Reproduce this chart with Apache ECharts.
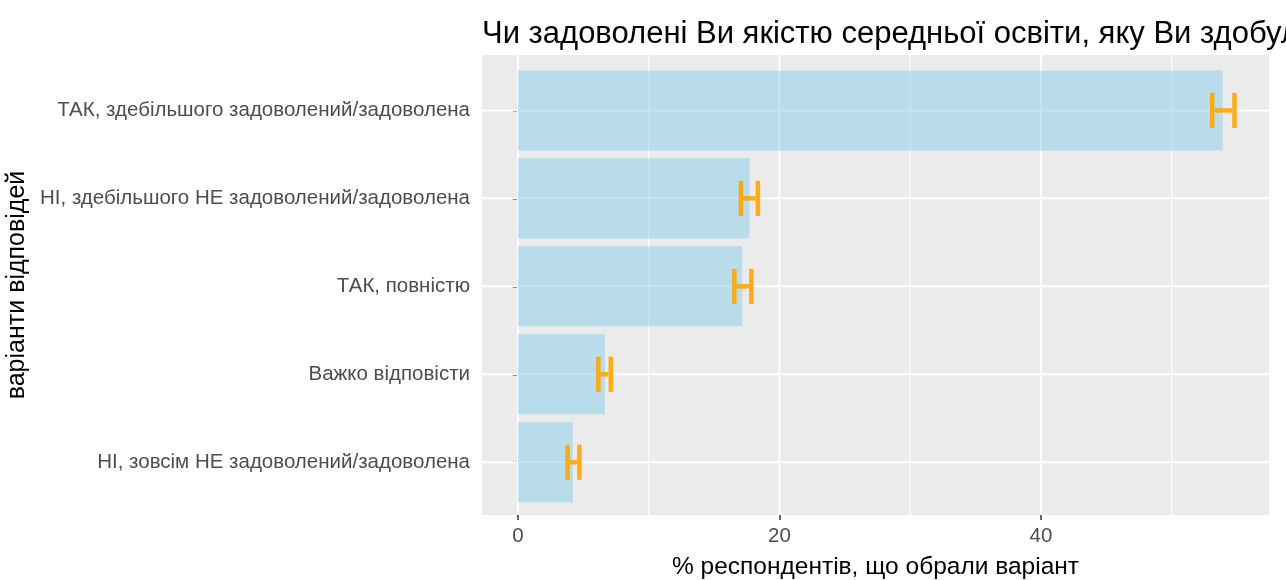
<!DOCTYPE html>
<html><head><meta charset="utf-8">
<script src="https://cdn.jsdelivr.net/npm/echarts@6/dist/echarts.min.js"></script>
<style>html,body{margin:0;padding:0;background:#fff}#c{width:1286px;height:580px}</style>
</head><body><div id="c"></div>
<script>
const categories = [
  'ТАК, здебільшого задоволений/задоволена',
  'НІ, здебільшого НЕ задоволений/задоволена',
  'ТАК, повністю',
  'Важко відповісти',
  'НІ, зовсім НЕ задоволений/задоволена'
];
const values = [53.9, 17.7, 17.15, 6.65, 4.2];
const lower = [53.1, 17.05, 16.55, 6.15, 3.8];
const upper = [54.8, 18.35, 17.85, 7.1, 4.7];
const xTicks = [0, 20, 40];
const xMinor = [10, 30, 50];
const titleText = 'Чи задоволені Ви якістю середньої освіти, яку Ви здобули?';
const xTitle = '% респондентів, що обрали варіант';
const yTitle = 'варіанти відповідей';

const FONT = 'Liberation Sans, Arial, sans-serif';
const rows = categories.map((c, i) => i + 1);

const chart = echarts.init(document.getElementById('c'), null, {renderer: 'canvas'});
chart.setOption({
  animation: false,
  backgroundColor: '#ffffff',
  textStyle: {fontFamily: FONT},
  title: {
    text: titleText, left: 477, top: 14,
    textStyle: {fontSize: 31, fontWeight: 'normal', color: '#000', fontFamily: FONT}
  },
  grid: {
    left: 482, right: 17, top: 55, bottom: 65,
    outerBoundsMode: 'none',
    show: true, backgroundColor: '#EBEBEB', borderWidth: 0, containLabel: false
  },
  xAxis: {
    type: 'value', min: -2.75, max: 57.44,
    axisLine: {show: false},
    axisTick: {show: true, customValues: xTicks, length: 5, lineStyle: {color: '#333', width: 1.5}},
    axisLabel: {customValues: xTicks, fontSize: 20.5, color: '#4D4D4D', margin: 11, fontFamily: FONT},
    splitLine: {show: false},
    name: xTitle, nameLocation: 'middle', nameGap: 40,
    nameTextStyle: {fontSize: 24.5, color: '#000', fontFamily: FONT}
  },
  yAxis: {
    type: 'value', inverse: true, min: 0.37, max: 5.6,
    axisLine: {show: false},
    axisTick: {show: true, customValues: rows, length: 5, lineStyle: {color: '#333', width: 1.5}},
    axisLabel: {customValues: rows, fontSize: 20.5, color: '#4D4D4D', margin: 12, fontFamily: FONT,
      formatter: v => categories[Math.round(v) - 1] || ''},
    splitLine: {show: false},
    name: yTitle, nameLocation: 'middle', nameGap: 448, nameRotate: 90,
    nameTextStyle: {fontSize: 25, color: '#000', fontFamily: FONT}
  },
  series: [
    {
      type: 'custom', z: 1, silent: true,
      data: xMinor.map(v => [v, 1]),
      renderItem: (params, api) => {
        const x = api.coord([api.value(0), 1])[0];
        const cs = params.coordSys;
        return {type: 'line', shape: {x1: x, y1: cs.y, x2: x, y2: cs.y + cs.height},
          style: {stroke: '#fff', lineWidth: 1}};
      }
    },
    {
      type: 'custom', z: 1, silent: true,
      data: xTicks.map(v => [v, 1]),
      renderItem: (params, api) => {
        const x = api.coord([api.value(0), 1])[0];
        const cs = params.coordSys;
        return {type: 'line', shape: {x1: x, y1: cs.y, x2: x, y2: cs.y + cs.height},
          style: {stroke: '#fff', lineWidth: 2}};
      }
    },
    {
      type: 'custom', z: 1, silent: true,
      data: rows.map(r => [0, r]),
      renderItem: (params, api) => {
        const y = api.coord([0, api.value(1)])[1];
        const cs = params.coordSys;
        return {type: 'line', shape: {x1: cs.x, y1: y, x2: cs.x + cs.width, y2: y},
          style: {stroke: '#fff', lineWidth: 2}};
      }
    },
    {
      type: 'custom', z: 2, silent: true,
      data: values.map((v, i) => [v, i + 1]),
      encode: {x: 0, y: 1},
      renderItem: (params, api) => {
        const p0 = api.coord([0, api.value(1)]);
        const p1 = api.coord([api.value(0), api.value(1)]);
        const h = api.size([0, 0.91])[1];
        return {type: 'rect', shape: {x: p0[0], y: p0[1] - h / 2, width: p1[0] - p0[0], height: h},
          style: {fill: 'rgba(135,206,235,0.5)'}};
      }
    },
    {
      type: 'custom', z: 3, silent: true,
      data: lower.map((lo, i) => [lo, upper[i], i + 1]),
      encode: {x: [0, 1], y: 2},
      renderItem: (params, api) => {
        const a = api.coord([api.value(0), api.value(2)]);
        const b = api.coord([api.value(1), api.value(2)]);
        const hh = api.size([0, 0.4])[1] / 2;
        const st = {stroke: 'rgba(255,165,0,0.9)', lineWidth: 4.5, lineCap: 'butt'};
        return {type: 'group', children: [
          {type: 'line', shape: {x1: a[0], y1: a[1] - hh, x2: a[0], y2: a[1] + hh}, style: st},
          {type: 'line', shape: {x1: b[0], y1: b[1] - hh, x2: b[0], y2: b[1] + hh}, style: st},
          {type: 'line', shape: {x1: a[0] + 2.25, y1: a[1], x2: b[0] - 2.25, y2: b[1]}, style: st}
        ]};
      }
    }
  ]
});
</script></body></html>
